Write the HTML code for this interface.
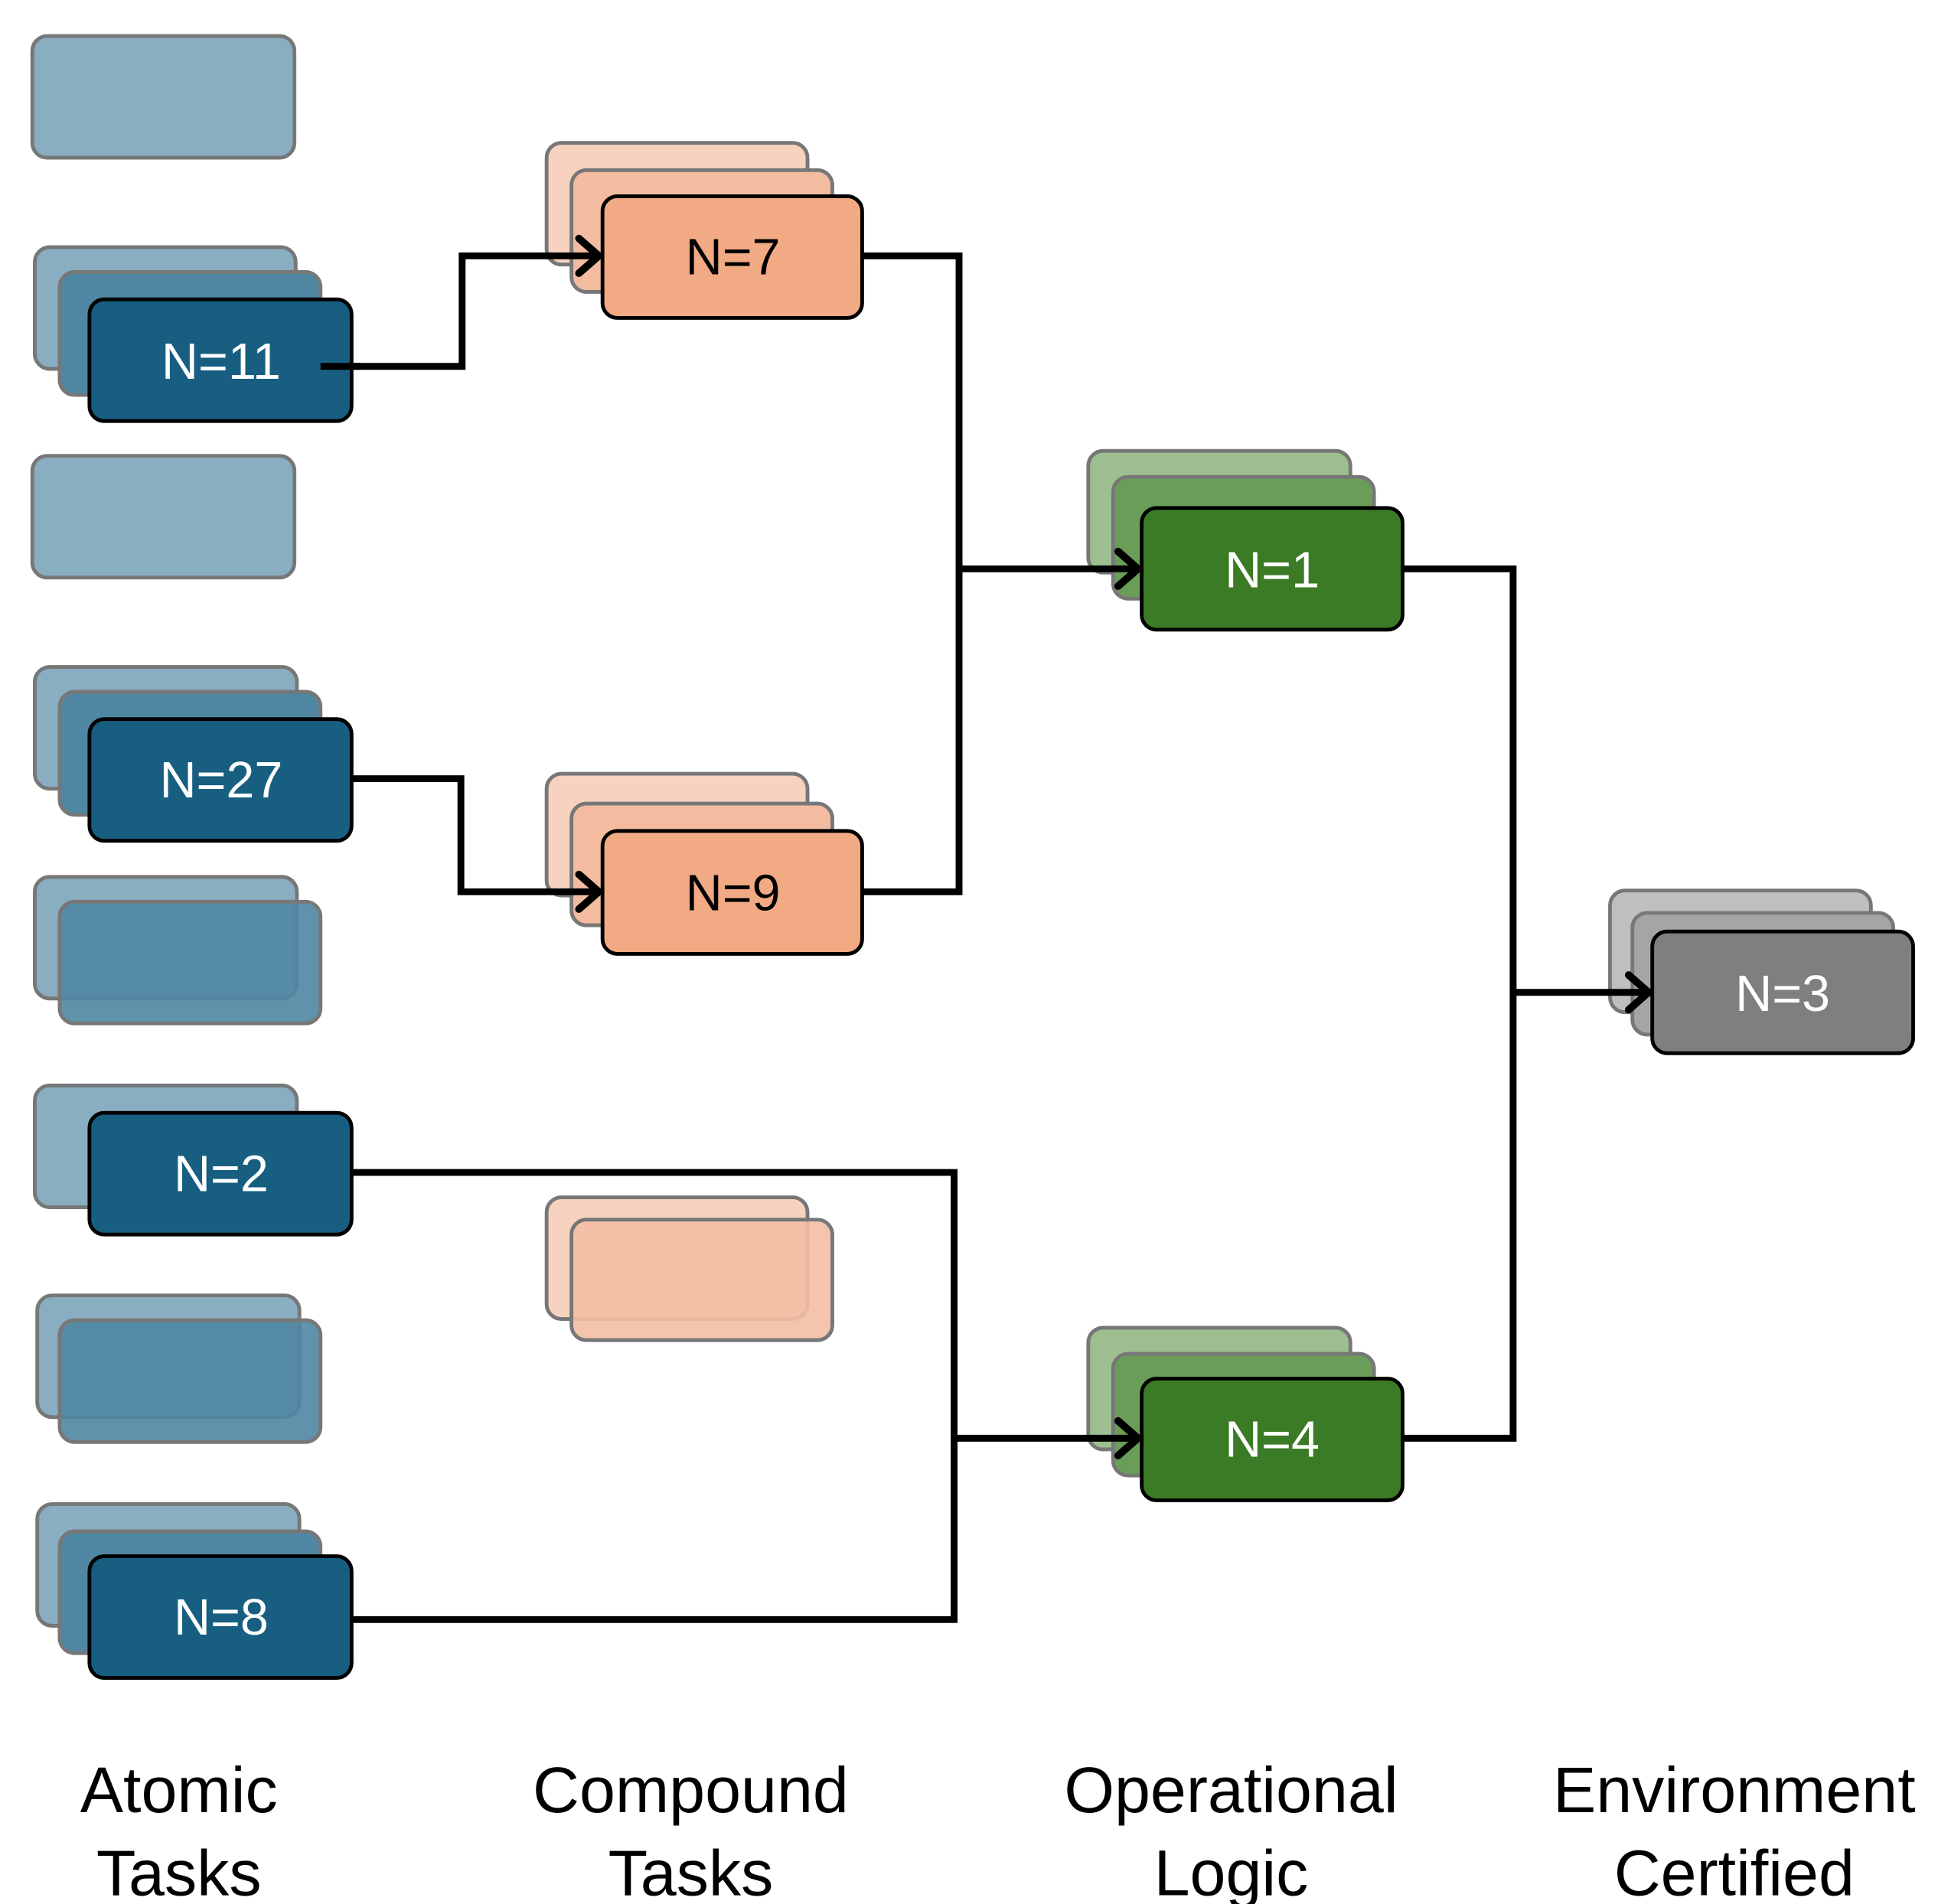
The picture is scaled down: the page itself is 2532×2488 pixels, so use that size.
<!DOCTYPE html>
<html><head><meta charset="utf-8"><style>
html,body{margin:0;padding:0;background:#fff;}
svg{display:block;}
text{font-family:"Liberation Sans",sans-serif;}
</style></head><body>
<svg width="2532" height="2488" viewBox="0 0 1560 1533" preserveAspectRatio="none" xmlns="http://www.w3.org/2000/svg">
<defs></defs>
<g stroke="#777" stroke-width="3">
<!-- blue backs -->
<rect x="26" y="29" width="211" height="98" rx="12" fill="#8aaec1"/>
<rect x="28" y="199" width="210" height="98" rx="12" fill="#8aaec1"/>
<rect x="48" y="219" width="210" height="99" rx="12" fill="#4f87a2"/>
<rect x="26" y="367" width="211" height="98" rx="12" fill="#8aaec1"/>
<rect x="28" y="537" width="211" height="98" rx="12" fill="#8aaec1"/>
<rect x="48" y="557" width="210" height="99" rx="12" fill="#4f87a2"/>
<rect x="28" y="706" width="211" height="98" rx="12" fill="#8aaec1"/>
<rect x="48" y="726" width="210" height="98" rx="12" fill="#4f87a2" fill-opacity="0.9"/>
<rect x="28" y="874" width="211" height="98" rx="12" fill="#8aaec1"/>
<rect x="30" y="1043" width="211" height="98" rx="12" fill="#8aaec1"/>
<rect x="48" y="1063" width="210" height="98" rx="12" fill="#4f87a2" fill-opacity="0.9"/>
<rect x="30" y="1211" width="211" height="98" rx="12" fill="#8aaec1"/>
<rect x="48" y="1233" width="210" height="98" rx="12" fill="#4f87a2"/>
<!-- orange backs -->
<rect x="440" y="115" width="210" height="98" rx="12" fill="#f7d3bf"/>
<rect x="460" y="137" width="210" height="98" rx="12" fill="#f3bca0"/>
<rect x="440" y="623" width="210" height="98" rx="12" fill="#f7d3bf"/>
<rect x="460" y="647" width="210" height="98" rx="12" fill="#f3bca0"/>
<rect x="440" y="964" width="210" height="98" rx="12" fill="#f7d3bf"/>
<rect x="460" y="982" width="210" height="97" rx="12" fill="#f3bea3" fill-opacity="0.9"/>
<!-- green backs -->
<rect x="876" y="363" width="211" height="98" rx="12" fill="#9dbf90"/>
<rect x="896" y="384" width="210" height="98" rx="12" fill="#6a9e58"/>
<rect x="876" y="1069" width="211" height="98" rx="12" fill="#9dbf90"/>
<rect x="896" y="1090" width="210" height="98" rx="12" fill="#6a9e58"/>
<!-- gray backs -->
<rect x="1296" y="717" width="210" height="98" rx="12" fill="#bfbfbf"/>
<rect x="1314" y="735" width="210" height="98" rx="12" fill="#a5a5a5"/>
</g>
<!-- connectors -->
<g fill="none" stroke="#000" stroke-width="5.5" stroke-linejoin="miter">
<polyline points="258,295 372,295 372,206 482,206"/>
<polyline points="694,206 772,206 772,718 694,718"/>
<polyline points="772,458 916,458"/>
<polyline points="283,627 371,627 371,718 482,718"/>
<polyline points="283,944 768,944 768,1304 283,1304"/>
<polyline points="768,1158 916,1158"/>
<polyline points="1129,458 1218,458 1218,1158 1129,1158"/>
<polyline points="1218,799 1327,799"/>
</g>
<g stroke="#000" stroke-width="3" fill="#000">
<rect x="72" y="241" width="211" height="98" rx="12" fill="#175e80"/>
<rect x="72" y="579" width="211" height="98" rx="12" fill="#175e80"/>
<rect x="72" y="896" width="211" height="98" rx="12" fill="#175e80"/>
<rect x="72" y="1253" width="211" height="98" rx="12" fill="#175e80"/>
<rect x="485" y="158" width="209" height="98" rx="12" fill="#f1aa84"/>
<rect x="485" y="669" width="209" height="99" rx="12" fill="#f1aa84"/>
<rect x="919" y="409" width="210" height="98" rx="12" fill="#3c7b25"/>
<rect x="919" y="1110" width="210" height="98" rx="12" fill="#3c7b25"/>
<rect x="1330" y="750" width="210" height="98" rx="12" fill="#7f7f7f"/>
</g>
<!-- redraw N=11 connector start over front box -->
<polyline points="258,295 290,295" fill="none" stroke="#000" stroke-width="5.5"/>
<!-- arrowheads -->
<g fill="none" stroke="#000" stroke-width="6" stroke-linecap="round" stroke-linejoin="round">
<polyline points="466,192 482,206 466,220"/>
<polyline points="466,704 482,718 466,732"/>
<polyline points="900,444 916,458 900,472"/>
<polyline points="900,1144 916,1158 900,1172"/>
<polyline points="1311,785 1327,799 1311,813"/>
</g>
<g font-size="41" text-anchor="middle">
<text x="178" y="305" fill="#fff">N=11</text>
<text x="178" y="642" fill="#fff">N=27</text>
<text x="178" y="959" fill="#fff">N=2</text>
<text x="178" y="1316" fill="#fff">N=8</text>
<text x="590" y="221" fill="#000">N=7</text>
<text x="590" y="733" fill="#000">N=9</text>
<text x="1024" y="473" fill="#fff">N=1</text>
<text x="1024" y="1173" fill="#fff">N=4</text>
<text x="1435" y="814" fill="#fff">N=3</text>
</g>
<g font-size="52" text-anchor="middle" fill="#000">
<text x="144" y="1459">Atomic</text>
<text x="144" y="1526">Tasks</text>
<text x="556" y="1459">Compound</text>
<text x="556" y="1526">Tasks</text>
<text x="991" y="1459">Operational</text>
<text x="991" y="1526">Logic</text>
<text x="1396" y="1459">Environment</text>
<text x="1396" y="1526">Certified</text>
</g>
</svg>
</body></html>
